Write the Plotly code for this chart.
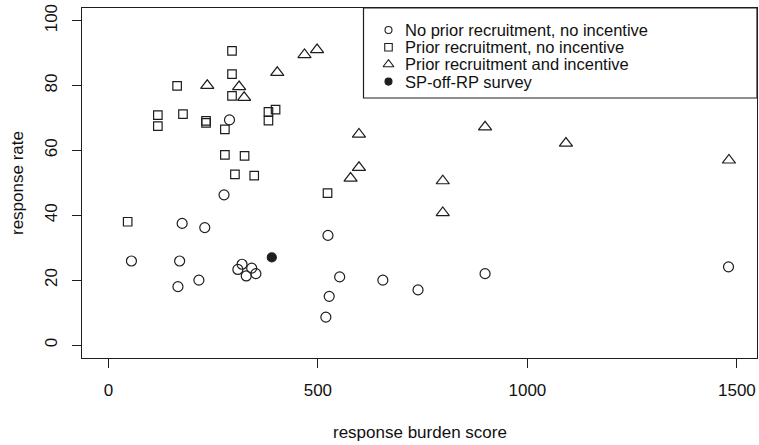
import plotly.graph_objects as go

# ---- data ----
no_prior_x = [289, 276, 176, 230, 524, 55, 170, 319, 309, 342, 329, 352, 166, 216, 552, 655, 527, 519, 739, 899, 1480]
no_prior_y = [69.4, 46.3, 37.5, 36.2, 33.8, 25.9, 25.9, 24.9, 23.3, 23.7, 21.3, 22.0, 18.0, 20.0, 21.0, 20.0, 15.0, 8.6, 17.0, 22.0, 24.1]

prior_x = [295, 295, 164, 295, 118, 118, 178, 233, 233, 278, 382, 399, 382, 278, 325, 302, 348, 523, 46]
prior_y = [90.7, 83.5, 79.9, 76.8, 70.9, 67.5, 71.2, 69.1, 68.5, 66.5, 71.9, 72.6, 69.2, 58.6, 58.3, 52.6, 52.2, 46.8, 38.0]

incent_x = [468, 498, 403, 236, 312, 324, 598, 598, 578, 798, 798, 899, 1092, 1481]
incent_y = [89.5, 91.0, 84.0, 80.0, 79.6, 76.3, 65.0, 54.7, 51.4, 50.6, 40.8, 67.2, 62.2, 57.0]

sp_x = [390]
sp_y = [27.0]

legend_labels = ["No prior recruitment, no incentive",
                 "Prior recruitment, no incentive",
                 "Prior recruitment and incentive",
                 "SP-off-RP survey"]

x_ticks = [0, 500, 1000, 1500]
y_ticks = [0, 20, 40, 60, 80, 100]
x_title = "response burden score"
y_title = "response rate"

# ---- styling ----
INK = "#1e1e1e"
FONT = "Liberation Sans, Arial, sans-serif"
W, H = 759, 445
L, R, T, B = 82, 2, 8, 87

fig = go.Figure()

def add_series(xs, ys, symbol, size):
    fig.add_trace(go.Scatter(
        x=xs, y=ys, mode="markers", showlegend=False, hoverinfo="skip",
        marker=dict(symbol=symbol, size=size, color=INK,
                    line=dict(color=INK, width=1.2))))

add_series(no_prior_x, no_prior_y, "circle-open", 10)
add_series(prior_x, prior_y, "square-open", 8.5)
add_series(incent_x, incent_y, "triangle-up-open", 11.5)
add_series(sp_x, sp_y, "circle", 9)

# ---- legend drawn manually (tight R-style legend) ----
pw = W - L - R
ph = H - T - B
def px_x(p):
    return (p - L) / pw
def px_y(p):
    return (H - B - p) / ph

leg_rows_px = [30, 47.2, 64.4, 81.6]
leg_sym = ["circle-open", "square-open", "triangle-up-open", "circle"]
leg_size = [7, 7.5, 9.5, 7]
for sym, sz, rp in zip(leg_sym, leg_size, leg_rows_px):
    fig.add_trace(go.Scatter(
        x=[px_x(388.5)], y=[px_y(rp)], xaxis="x2", yaxis="y2",
        mode="markers", showlegend=False, hoverinfo="skip",
        marker=dict(symbol=sym, size=sz, color=INK,
                    line=dict(color=INK, width=1.1))))

annotations = []
for lab, rp in zip(legend_labels, leg_rows_px):
    annotations.append(dict(
        text=lab, xref="paper", yref="paper", x=px_x(403), y=px_y(rp),
        xanchor="left", yanchor="middle", showarrow=False,
        font=dict(size=16.5, color="#111", family=FONT)))

annotations.append(dict(text=x_title, xref="paper", yref="paper",
                        x=0.5, y=px_y(432), xanchor="center", yanchor="middle",
                        showarrow=False, font=dict(size=17, color="#111", family=FONT)))
annotations.append(dict(text=y_title, xref="paper", yref="paper",
                        x=px_x(17), y=0.5, xanchor="center", yanchor="middle",
                        textangle=-90, showarrow=False,
                        font=dict(size=17, color="#111", family=FONT)))

shapes = [dict(type="rect", xref="paper", yref="paper",
               x0=px_x(363.5), x1=1, y0=px_y(98), y1=1,
               line=dict(color=INK, width=1.2), fillcolor="white", layer="below")]

axis_common = dict(showgrid=False, zeroline=False, showline=True, mirror=True,
                   linecolor=INK, linewidth=1.2, ticks="outside", ticklen=9,
                   tickwidth=1, tickcolor=INK,
                   tickfont=dict(size=17, color="#111", family=FONT))

fig.update_layout(
    width=W, height=H, autosize=False,
    margin=dict(l=L, r=R, t=T, b=B, pad=0),
    paper_bgcolor="white", plot_bgcolor="white",
    showlegend=False,
    font=dict(family=FONT, color="#111"),
    xaxis=dict(range=[-63, 1548], tickvals=x_ticks,
               ticktext=[str(v) for v in x_ticks], ticklabelstandoff=7,
               **axis_common),
    yaxis=dict(range=[-4.0, 103.9], tickvals=y_ticks,
               ticktext=[str(v) for v in y_ticks], tickangle=-90,
               ticklabelstandoff=8, **axis_common),
    xaxis2=dict(overlaying="x", range=[0, 1], visible=False),
    yaxis2=dict(overlaying="y", range=[0, 1], visible=False),
    annotations=annotations,
    shapes=shapes,
)

fig.write_html("out.html", config={"displayModeBar": False},
               post_script="document.body.style.margin='0';document.body.style.padding='0';")
